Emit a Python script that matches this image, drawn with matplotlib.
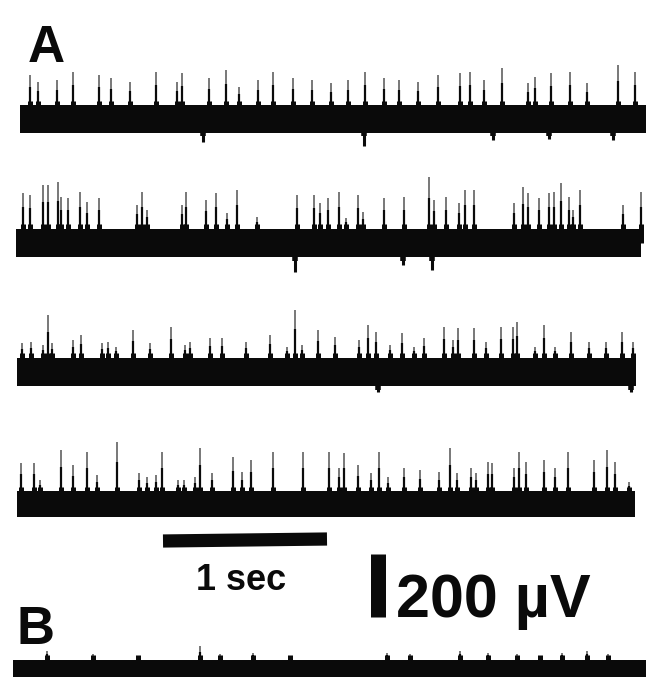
import matplotlib
matplotlib.use("Agg")
import matplotlib.pyplot as plt

# ---------------- data (times in s, amplitudes in µV) ----------------
trace_labels = ["A1", "A2", "A3", "A4", "B"]

a1_spike_t = [0.085, 0.134, 0.250, 0.348, 0.506, 0.579, 0.695, 0.854, 0.982, 1.012,
              1.177, 1.280, 1.360, 1.476, 1.567, 1.689, 1.805, 1.921, 2.024, 2.128,
              2.244, 2.335, 2.451, 2.573, 2.707, 2.768, 2.854, 2.963, 3.122, 3.165,
              3.262, 3.378, 3.482, 3.671, 3.774]
a1_spike_uv = [140, 117, 124, 149, 140, 130, 117, 149, 117, 146,
               130, 156, 102, 124, 149, 130, 124, 114, 124, 149,
               130, 124, 117, 140, 146, 149, 124, 162, 114, 133,
               146, 149, 114, 171, 149]
a1_dip_t = [1.140, 2.122, 2.909, 3.250, 3.640]
a1_dip_uv = [-73, -85, -67, -63, -67]

a2_spike_t = [0.043, 0.085, 0.165, 0.195, 0.256, 0.274, 0.317, 0.390, 0.433, 0.506,
              0.738, 0.768, 0.799, 1.012, 1.037, 1.159, 1.220, 1.287, 1.348, 1.470,
              1.713, 1.817, 1.854, 1.902, 1.970, 2.012, 2.085, 2.116, 2.244, 2.366,
              2.518, 2.549, 2.622, 2.701, 2.738, 2.793, 3.037, 3.091, 3.122, 3.189,
              3.250, 3.280, 3.323, 3.372, 3.396, 3.439, 3.701, 3.811]
a2_spike_uv = [159, 152, 184, 184, 194, 146, 143, 162, 130, 143,
               121, 162, 105, 121, 162, 137, 159, 95, 168, 83,
               152, 152, 127, 143, 162, 79, 152, 98, 143, 146,
               210, 137, 146, 127, 168, 168, 127, 178, 159, 143,
               159, 162, 190, 146, 105, 168, 121, 162]
a2_dip_t = [1.701, 2.360, 2.537]
a2_dip_uv = [-92, -70, -86]

a3_spike_t = [0.037, 0.091, 0.165, 0.195, 0.220, 0.348, 0.396, 0.524, 0.561, 0.610,
              0.713, 0.817, 0.945, 1.030, 1.061, 1.183, 1.256, 1.402, 1.549, 1.652,
              1.701, 1.744, 1.841, 1.945, 2.091, 2.146, 2.195, 2.280, 2.354, 2.427,
              2.488, 2.610, 2.665, 2.695, 2.793, 2.866, 2.957, 3.030, 3.055, 3.165,
              3.220, 3.287, 3.384, 3.494, 3.598, 3.695, 3.762]
a3_spike_uv = [92, 95, 86, 181, 92, 102, 117, 92, 95, 79,
               133, 92, 143, 86, 95, 108, 108, 95, 117, 79,
               197, 86, 133, 111, 102, 149, 127, 86, 124, 79,
               108, 143, 102, 140, 140, 95, 143, 143, 159, 79,
               149, 79, 127, 95, 95, 127, 95]
a3_dip_t = [2.207, 3.750]
a3_dip_uv = [-64, -64]

a4_spike_t = [0.030, 0.110, 0.146, 0.274, 0.348, 0.433, 0.494, 0.616, 0.750, 0.799,
              0.854, 0.890, 0.988, 1.024, 1.091, 1.122, 1.195, 1.323, 1.378, 1.433,
              1.567, 1.750, 1.909, 1.970, 2.000, 2.085, 2.165, 2.213, 2.268, 2.366,
              2.463, 2.579, 2.646, 2.689, 2.774, 2.805, 2.878, 2.902, 3.037, 3.067,
              3.110, 3.220, 3.287, 3.366, 3.524, 3.604, 3.652, 3.738]
a4_spike_uv = [130, 130, 76, 171, 124, 165, 92, 197, 98, 86,
               92, 165, 76, 76, 86, 178, 98, 149, 102, 140,
               165, 165, 165, 114, 162, 124, 98, 165, 86, 114,
               108, 102, 178, 98, 114, 98, 133, 130, 114, 165,
               133, 140, 114, 165, 140, 171, 133, 70]
a4_dip_t = []
a4_dip_uv = []

b_spike_t = [0.189, 0.470, 0.744, 1.122, 1.244, 1.445, 1.671, 2.262, 2.402, 2.707,
             2.878, 3.055, 3.195, 3.329, 3.482, 3.610]
b_spike_uv = [95, 85, 80, 110, 85, 90, 80, 90, 85, 95,
              90, 85, 80, 90, 95, 85]

# ---------------- layout (pixel-based geometry of the reference) ----------------
W, H = 646, 677
PX_PER_S = 164.0
PX_PER_UV = 63.0 / 200.0
X0_PX = 16.0

def px_t(px):
    return (px - X0_PX) / PX_PER_S

def px_uv(py):
    return -py / PX_PER_UV

traces = [
    # centre_px, halfwidth_uv, start_px, end_px, spikes, dips
    (119, 44, 20, 646, (a1_spike_t, a1_spike_uv), (a1_dip_t, a1_dip_uv)),
    (243, 46, 16, 641, (a2_spike_t, a2_spike_uv), (a2_dip_t, a2_dip_uv)),
    (372, 46, 17, 636, (a3_spike_t, a3_spike_uv), (a3_dip_t, a3_dip_uv)),
    (504, 40, 17, 635, (a4_spike_t, a4_spike_uv), (a4_dip_t, a4_dip_uv)),
    (681, 68, 13, 646, (b_spike_t, b_spike_uv), ([], [])),
]

fig = plt.figure(figsize=(W / 100, H / 100), dpi=100)
fig.patch.set_facecolor("white")
ax = fig.add_axes([0, 0, 1, 1])
ax.set_xlim(px_t(0), px_t(W))
ax.set_ylim(px_uv(H), px_uv(0))
ax.axis("off")

ink = "#0a0a0a"
for cy, hw, s_px, e_px, (st, su), (dt, du) in traces:
    off = px_uv(cy)
    t0, t1 = px_t(s_px), px_t(e_px)
    ax.fill_between([t0, t1], [off - hw] * 2, [off + hw] * 2, color=ink, lw=0)
    # faint, dotted-looking upper part of each spike
    ax.vlines(st, off, [off + u for u in su], color=ink, lw=1.4, alpha=0.55)
    # solid lower part
    ax.vlines(st, off, [off + hw + 0.6 * (u - hw) for u in su], color=ink, lw=1.6)
    # thickened spike bases make the band edge ragged
    ax.vlines(st, off, [off + hw + 14] * len(st), color=ink, lw=3.6)
    if dt:
        ax.vlines(dt, off, [off + u for u in du], color=ink, lw=2.2)
        ax.vlines(dt, off, [off - hw - 10] * len(dt), color=ink, lw=4.0)

# time scale bar (1 s)
bar_t0 = px_t(163)
ax.plot([bar_t0, bar_t0 + 1.0], [px_uv(541), px_uv(539)], color=ink, lw=9.5,
        solid_capstyle="butt")
# voltage scale bar (200 µV)
vb_t = px_t(377.5)
vb_top = px_uv(554)
ax.plot([vb_t, vb_t], [vb_top, vb_top - 200], color=ink, lw=10.8,
        solid_capstyle="butt")

font = "Liberation Sans"
fig.text(28 / W, 1 - 62 / H, "A", fontsize=37, fontweight="bold", family=font,
         color=ink, ha="left", va="baseline")
fig.text(17 / W, 1 - 644 / H, "B", fontsize=38, fontweight="bold", family=font,
         color=ink, ha="left", va="baseline")
fig.text(241 / W, 1 - 590 / H, "1 sec", fontsize=26, fontweight="bold", family=font,
         color=ink, ha="center", va="baseline")
fig.text(396 / W, 1 - 617 / H, "200 µV", fontsize=44, fontweight="bold", family=font,
         color=ink, ha="left", va="baseline")

fig.savefig("out.png", dpi=100, facecolor="white")
